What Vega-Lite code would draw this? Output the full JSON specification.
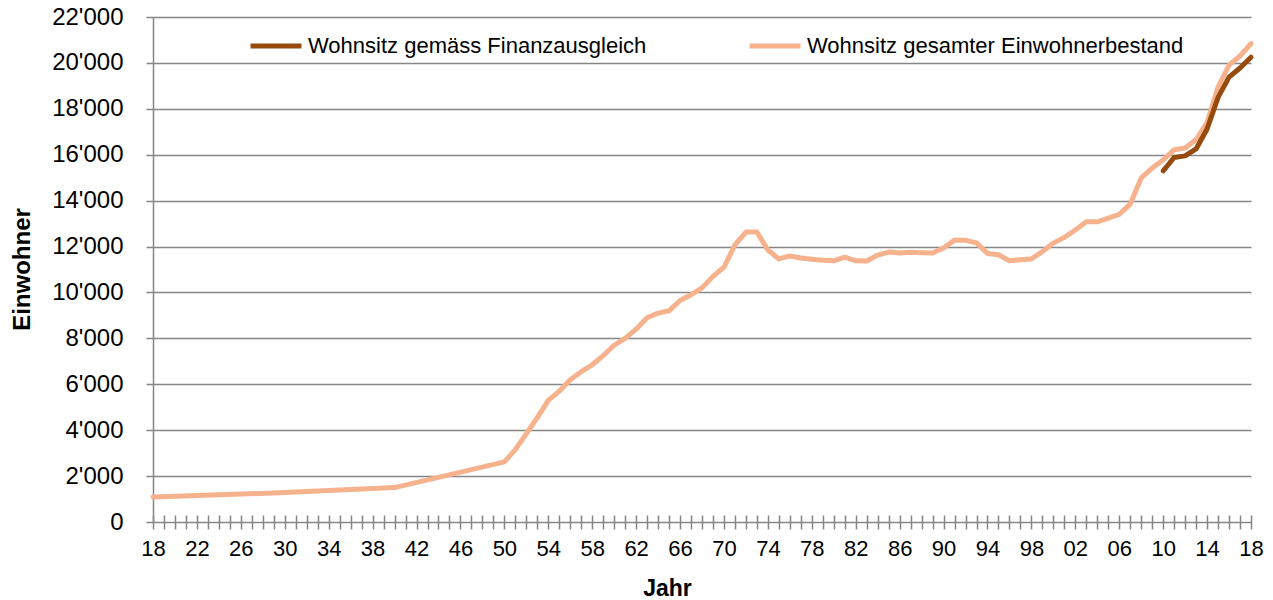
{
  "$schema": "https://vega.github.io/schema/vega-lite/v6.json",
  "autosize": "none",
  "width": 1098,
  "height": 505,
  "padding": {"left": 153, "top": 17, "right": 22, "bottom": 78},
  "background": "white",
  "config": {
    "view": {"stroke": null},
    "font": "Liberation Sans"
  },
  "data": {
    "values": [
      {"year": 1918, "series": "Wohnsitz gesamter Einwohnerbestand", "value": 1090},
      {"year": 1930, "series": "Wohnsitz gesamter Einwohnerbestand", "value": 1280},
      {"year": 1940, "series": "Wohnsitz gesamter Einwohnerbestand", "value": 1500},
      {"year": 1950, "series": "Wohnsitz gesamter Einwohnerbestand", "value": 2620},
      {"year": 1951, "series": "Wohnsitz gesamter Einwohnerbestand", "value": 3150},
      {"year": 1952, "series": "Wohnsitz gesamter Einwohnerbestand", "value": 3850},
      {"year": 1953, "series": "Wohnsitz gesamter Einwohnerbestand", "value": 4550},
      {"year": 1954, "series": "Wohnsitz gesamter Einwohnerbestand", "value": 5300},
      {"year": 1955, "series": "Wohnsitz gesamter Einwohnerbestand", "value": 5700},
      {"year": 1956, "series": "Wohnsitz gesamter Einwohnerbestand", "value": 6200},
      {"year": 1957, "series": "Wohnsitz gesamter Einwohnerbestand", "value": 6550},
      {"year": 1958, "series": "Wohnsitz gesamter Einwohnerbestand", "value": 6850},
      {"year": 1959, "series": "Wohnsitz gesamter Einwohnerbestand", "value": 7250},
      {"year": 1960, "series": "Wohnsitz gesamter Einwohnerbestand", "value": 7700},
      {"year": 1961, "series": "Wohnsitz gesamter Einwohnerbestand", "value": 8000},
      {"year": 1962, "series": "Wohnsitz gesamter Einwohnerbestand", "value": 8400},
      {"year": 1963, "series": "Wohnsitz gesamter Einwohnerbestand", "value": 8900},
      {"year": 1964, "series": "Wohnsitz gesamter Einwohnerbestand", "value": 9100},
      {"year": 1965, "series": "Wohnsitz gesamter Einwohnerbestand", "value": 9200},
      {"year": 1966, "series": "Wohnsitz gesamter Einwohnerbestand", "value": 9650},
      {"year": 1967, "series": "Wohnsitz gesamter Einwohnerbestand", "value": 9900},
      {"year": 1968, "series": "Wohnsitz gesamter Einwohnerbestand", "value": 10200},
      {"year": 1969, "series": "Wohnsitz gesamter Einwohnerbestand", "value": 10700},
      {"year": 1970, "series": "Wohnsitz gesamter Einwohnerbestand", "value": 11100},
      {"year": 1971, "series": "Wohnsitz gesamter Einwohnerbestand", "value": 12070},
      {"year": 1972, "series": "Wohnsitz gesamter Einwohnerbestand", "value": 12630},
      {"year": 1973, "series": "Wohnsitz gesamter Einwohnerbestand", "value": 12630},
      {"year": 1974, "series": "Wohnsitz gesamter Einwohnerbestand", "value": 11850},
      {"year": 1975, "series": "Wohnsitz gesamter Einwohnerbestand", "value": 11460},
      {"year": 1976, "series": "Wohnsitz gesamter Einwohnerbestand", "value": 11590},
      {"year": 1977, "series": "Wohnsitz gesamter Einwohnerbestand", "value": 11500},
      {"year": 1978, "series": "Wohnsitz gesamter Einwohnerbestand", "value": 11450},
      {"year": 1979, "series": "Wohnsitz gesamter Einwohnerbestand", "value": 11400},
      {"year": 1980, "series": "Wohnsitz gesamter Einwohnerbestand", "value": 11380},
      {"year": 1981, "series": "Wohnsitz gesamter Einwohnerbestand", "value": 11540},
      {"year": 1982, "series": "Wohnsitz gesamter Einwohnerbestand", "value": 11380},
      {"year": 1983, "series": "Wohnsitz gesamter Einwohnerbestand", "value": 11370},
      {"year": 1984, "series": "Wohnsitz gesamter Einwohnerbestand", "value": 11630},
      {"year": 1985, "series": "Wohnsitz gesamter Einwohnerbestand", "value": 11760},
      {"year": 1986, "series": "Wohnsitz gesamter Einwohnerbestand", "value": 11720},
      {"year": 1987, "series": "Wohnsitz gesamter Einwohnerbestand", "value": 11750},
      {"year": 1988, "series": "Wohnsitz gesamter Einwohnerbestand", "value": 11730},
      {"year": 1989, "series": "Wohnsitz gesamter Einwohnerbestand", "value": 11720},
      {"year": 1990, "series": "Wohnsitz gesamter Einwohnerbestand", "value": 11940},
      {"year": 1991, "series": "Wohnsitz gesamter Einwohnerbestand", "value": 12280},
      {"year": 1992, "series": "Wohnsitz gesamter Einwohnerbestand", "value": 12270},
      {"year": 1993, "series": "Wohnsitz gesamter Einwohnerbestand", "value": 12160},
      {"year": 1994, "series": "Wohnsitz gesamter Einwohnerbestand", "value": 11700},
      {"year": 1995, "series": "Wohnsitz gesamter Einwohnerbestand", "value": 11640},
      {"year": 1996, "series": "Wohnsitz gesamter Einwohnerbestand", "value": 11380},
      {"year": 1997, "series": "Wohnsitz gesamter Einwohnerbestand", "value": 11420},
      {"year": 1998, "series": "Wohnsitz gesamter Einwohnerbestand", "value": 11460},
      {"year": 1999, "series": "Wohnsitz gesamter Einwohnerbestand", "value": 11780},
      {"year": 2000, "series": "Wohnsitz gesamter Einwohnerbestand", "value": 12150},
      {"year": 2001, "series": "Wohnsitz gesamter Einwohnerbestand", "value": 12400},
      {"year": 2002, "series": "Wohnsitz gesamter Einwohnerbestand", "value": 12720},
      {"year": 2003, "series": "Wohnsitz gesamter Einwohnerbestand", "value": 13080},
      {"year": 2004, "series": "Wohnsitz gesamter Einwohnerbestand", "value": 13080},
      {"year": 2005, "series": "Wohnsitz gesamter Einwohnerbestand", "value": 13240},
      {"year": 2006, "series": "Wohnsitz gesamter Einwohnerbestand", "value": 13400},
      {"year": 2007, "series": "Wohnsitz gesamter Einwohnerbestand", "value": 13850},
      {"year": 2008, "series": "Wohnsitz gesamter Einwohnerbestand", "value": 14990},
      {"year": 2009, "series": "Wohnsitz gesamter Einwohnerbestand", "value": 15420},
      {"year": 2010, "series": "Wohnsitz gesamter Einwohnerbestand", "value": 15770},
      {"year": 2011, "series": "Wohnsitz gesamter Einwohnerbestand", "value": 16220},
      {"year": 2012, "series": "Wohnsitz gesamter Einwohnerbestand", "value": 16290},
      {"year": 2013, "series": "Wohnsitz gesamter Einwohnerbestand", "value": 16660},
      {"year": 2014, "series": "Wohnsitz gesamter Einwohnerbestand", "value": 17400},
      {"year": 2015, "series": "Wohnsitz gesamter Einwohnerbestand", "value": 18950},
      {"year": 2016, "series": "Wohnsitz gesamter Einwohnerbestand", "value": 19900},
      {"year": 2017, "series": "Wohnsitz gesamter Einwohnerbestand", "value": 20300},
      {"year": 2018, "series": "Wohnsitz gesamter Einwohnerbestand", "value": 20840},
      {"year": 2010, "series": "Wohnsitz gemäss Finanzausgleich", "value": 15300},
      {"year": 2011, "series": "Wohnsitz gemäss Finanzausgleich", "value": 15880},
      {"year": 2012, "series": "Wohnsitz gemäss Finanzausgleich", "value": 15950},
      {"year": 2013, "series": "Wohnsitz gemäss Finanzausgleich", "value": 16250},
      {"year": 2014, "series": "Wohnsitz gemäss Finanzausgleich", "value": 17120},
      {"year": 2015, "series": "Wohnsitz gemäss Finanzausgleich", "value": 18500},
      {"year": 2016, "series": "Wohnsitz gemäss Finanzausgleich", "value": 19380},
      {"year": 2017, "series": "Wohnsitz gemäss Finanzausgleich", "value": 19780},
      {"year": 2018, "series": "Wohnsitz gemäss Finanzausgleich", "value": 20250}
    ]
  },
  "mark": {"type": "line", "strokeWidth": 5, "strokeJoin": "round", "strokeCap": "round"},
  "encoding": {
    "x": {
      "field": "year",
      "type": "quantitative",
      "scale": {"domain": [1918, 2018], "nice": false, "zero": false},
      "axis": {
        "title": "Jahr",
        "titleFont": "Liberation Sans",
        "titleFontSize": 23,
        "titleFontWeight": "bold",
        "titleColor": "#000000",
        "titleX": 514,
        "titleY": 73,
        "titleBaseline": "middle",
        "values": [1918,1919,1920,1921,1922,1923,1924,1925,1926,1927,1928,1929,1930,1931,1932,1933,1934,1935,1936,1937,1938,1939,1940,1941,1942,1943,1944,1945,1946,1947,1948,1949,1950,1951,1952,1953,1954,1955,1956,1957,1958,1959,1960,1961,1962,1963,1964,1965,1966,1967,1968,1969,1970,1971,1972,1973,1974,1975,1976,1977,1978,1979,1980,1981,1982,1983,1984,1985,1986,1987,1988,1989,1990,1991,1992,1993,1994,1995,1996,1997,1998,1999,2000,2001,2002,2003,2004,2005,2006,2007,2008,2009,2010,2011,2012,2013,2014,2015,2016,2017,2018],
        "labelExpr": "(datum.value - 1918) % 4 == 0 ? format(datum.value % 100, '02d') : ''",
        "labelOverlap": false,
        "labelFlush": false,
        "labelFont": "Liberation Sans",
        "labelFontSize": 22,
        "labelColor": "#000000",
        "labelPadding": 9,
        "offset": -7,
        "domain": false,
        "ticks": true,
        "tickSize": 14,
        "tickColor": "#868686",
        "tickWidth": 1.5,
        "grid": false
      }
    },
    "y": {
      "field": "value",
      "type": "quantitative",
      "scale": {"domain": [0, 22000], "nice": false},
      "axis": {
        "title": "Einwohner",
        "titleFont": "Liberation Sans",
        "titleFontSize": 24,
        "titleFontWeight": "bold",
        "titleColor": "#000000",
        "titleAngle": -90,
        "titleX": -131,
        "titleY": 252,
        "titleBaseline": "middle",
        "titleAlign": "center",
        "values": [0, 2000, 4000, 6000, 8000, 10000, 12000, 14000, 16000, 18000, 20000, 22000],
        "labelExpr": "replace(format(datum.value, ','), ',', \"'\")",
        "labelFont": "Liberation Sans",
        "labelFontSize": 24,
        "labelColor": "#000000",
        "labelPadding": 23,
        "tickSize": 7,
        "tickColor": "#868686",
        "tickWidth": 1.5,
        "domain": true,
        "domainColor": "#868686",
        "domainWidth": 1.5,
        "grid": true,
        "gridColor": "#868686",
        "gridWidth": 1.5
      }
    },
    "color": {
      "field": "series",
      "type": "nominal",
      "scale": {
        "domain": ["Wohnsitz gemäss Finanzausgleich", "Wohnsitz gesamter Einwohnerbestand"],
        "range": ["#964A0C", "#F6B28C"]
      },
      "legend": {
        "title": null,
        "orient": "none",
        "direction": "horizontal",
        "legendX": 95,
        "legendY": 1,
        "symbolType": "stroke",
        "symbolSize": 2600,
        "symbolStrokeWidth": 5,
        "labelFont": "Liberation Sans",
        "labelFontSize": 22,
        "labelColor": "#000000",
        "labelOffset": 4,
        "columnPadding": 92,
        "labelLimit": 600
      }
    }
  }
}
